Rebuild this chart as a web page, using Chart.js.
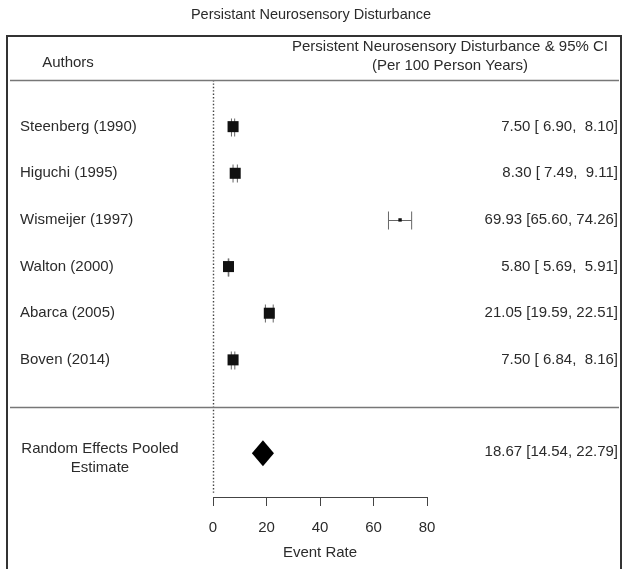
<!DOCTYPE html>
<html><head><meta charset="utf-8">
<script src="https://cdn.jsdelivr.net/npm/chart.js@4/dist/chart.umd.min.js"></script>
<style>html,body{margin:0;padding:0;background:#fff}#wrap{width:623px;height:569px;position:relative}</style>
</head><body><div id="wrap"><canvas id="c" width="623" height="569"></canvas></div>
<script>
const chartTitle = 'Persistant Neurosensory Disturbance';
const headerLeft = 'Authors';
const headerRight = ['Persistent Neurosensory Disturbance & 95% CI', '(Per 100 Person Years)'];
const studies = ['Steenberg (1990)', 'Higuchi (1995)', 'Wismeijer (1997)', 'Walton (2000)', 'Abarca (2005)', 'Boven (2014)'];
const estimates = [7.50, 8.30, 69.93, 5.80, 21.05, 7.50];
const lowerCI = [6.90, 7.49, 65.60, 5.69, 19.59, 6.84];
const upperCI = [8.10, 9.11, 74.26, 5.91, 22.51, 8.16];
const pooledLabel = ['Random Effects Pooled', 'Estimate'];
const pooledEst = 18.67;
const pooledLower = 14.54;
const pooledUpper = 22.79;
const xTicks = [0, 20, 40, 60, 80];
const xTitle = 'Event Rate';

const FONT = 'Liberation Sans, Arial, sans-serif';
const TXT = '#2b2b2b';
const POOLED_ROW = studies.length + 2;

function pad5(v) { let s = v.toFixed(2); while (s.length < 5) s = ' ' + s; return s; }
function ciText(e, l, u) { return e.toFixed(2) + ' [' + pad5(l) + ', ' + pad5(u) + ']'; }

const forestPlugin = {
  id: 'forest',
  beforeDatasetsDraw(chart) {
    const ctx = chart.ctx, xs = chart.scales.x, ys = chart.scales.y;
    ctx.save();
    // dotted reference line at 0
    const x0 = Math.round(xs.getPixelForValue(0)) + 0.5;
    ctx.strokeStyle = '#444'; ctx.lineWidth = 1.4; ctx.setLineDash([1.4, 2]);
    ctx.beginPath(); ctx.moveTo(x0, ys.getPixelForValue(0)); ctx.lineTo(x0, chart.chartArea.bottom - 4); ctx.stroke();
    ctx.setLineDash([]);
    // whiskers
    ctx.strokeStyle = '#666'; ctx.lineWidth = 1;
    studies.forEach((s, i) => {
      const y = Math.round(ys.getPixelForValue(i + 1)) + 0.5;
      const xl = xs.getPixelForValue(lowerCI[i]), xu = xs.getPixelForValue(upperCI[i]);
      ctx.beginPath();
      ctx.moveTo(xl, y); ctx.lineTo(xu, y);
      ctx.moveTo(xl, y - 9); ctx.lineTo(xl, y + 9);
      ctx.moveTo(xu, y - 9); ctx.lineTo(xu, y + 9);
      ctx.stroke();
    });
    ctx.restore();
  },
  afterDraw(chart) {
    const ctx = chart.ctx, xs = chart.scales.x, ys = chart.scales.y;
    ctx.save();
    // frame
    ctx.strokeStyle = '#333'; ctx.lineWidth = 2;
    ctx.strokeRect(7, 36, 614, 620);
    // separators
    ctx.strokeStyle = '#777'; ctx.lineWidth = 1.5;
    [0, studies.length + 1].forEach(v => {
      const y = Math.round(ys.getPixelForValue(v)) + 0.5;
      ctx.beginPath(); ctx.moveTo(10, y); ctx.lineTo(619, y); ctx.stroke();
    });
    // title
    ctx.fillStyle = TXT; ctx.textBaseline = 'middle';
    ctx.font = '14.5px ' + FONT; ctx.textAlign = 'center';
    ctx.fillText(chartTitle, 311, 15);
    ctx.font = '15px ' + FONT;
    ctx.fillText(headerLeft, 68, 63);
    ctx.fillText(headerRight[0], 450, 47);
    ctx.fillText(headerRight[1], 450, 66);
    // study rows
    studies.forEach((s, i) => {
      const y = ys.getPixelForValue(i + 1);
      ctx.textAlign = 'left'; ctx.fillText(s, 20, y);
      ctx.textAlign = 'right'; ctx.fillText(ciText(estimates[i], lowerCI[i], upperCI[i]), 618, y);
    });
    // pooled
    const yp = ys.getPixelForValue(POOLED_ROW);
    ctx.textAlign = 'center';
    ctx.fillText(pooledLabel[0], 100, yp - 4);
    ctx.fillText(pooledLabel[1], 100, yp + 15);
    ctx.textAlign = 'right';
    ctx.fillText(ciText(pooledEst, pooledLower, pooledUpper), 618, yp - 1);
    // diamond
    const xl = xs.getPixelForValue(pooledLower), xm = xs.getPixelForValue(pooledEst), xu = xs.getPixelForValue(pooledUpper);
    ctx.fillStyle = '#000';
    ctx.beginPath();
    ctx.moveTo(xl, yp); ctx.lineTo(xm, yp - 13); ctx.lineTo(xu, yp); ctx.lineTo(xm, yp + 13); ctx.closePath();
    ctx.fill();
    ctx.restore();
  }
};

new Chart(document.getElementById('c'), {
  type: 'scatter',
  data: {
    datasets: [{
      data: estimates.map((e, i) => ({ x: e, y: i + 1 })),
      pointStyle: 'rect',
      pointRadius: c => (c.dataIndex === 2 ? 2.4 : 7.8),
      pointHoverRadius: c => (c.dataIndex === 2 ? 2.4 : 7.8),
      backgroundColor: '#111',
      borderColor: '#111',
      borderWidth: 0
    }]
  },
  options: {
    responsive: false,
    animation: false,
    devicePixelRatio: 1,
    events: [],
    layout: { padding: { top: 80, left: 213, right: 196, bottom: 0 } },
    plugins: { legend: { display: false }, tooltip: { enabled: false }, title: { display: false } },
    scales: {
      x: {
        type: 'linear', min: 0, max: 80, position: 'bottom',
        afterBuildTicks: s => { s.ticks = xTicks.map(v => ({ value: v })); },
        afterFit: s => { s.height = 72; },
        grid: { drawOnChartArea: false, drawTicks: true, tickLength: 9, color: '#444', lineWidth: 1 },
        border: { display: true, color: '#444', width: 1 },
        ticks: { padding: 13, color: TXT, font: { family: FONT, size: 15 }, maxRotation: 0 },
        title: { display: true, text: xTitle, color: TXT, font: { family: FONT, size: 15 }, padding: { top: 0, bottom: 7 } }
      },
      y: { type: 'linear', min: 0, max: 8.94, reverse: true, display: false }
    }
  },
  plugins: [forestPlugin]
});
</script>
</body></html>
